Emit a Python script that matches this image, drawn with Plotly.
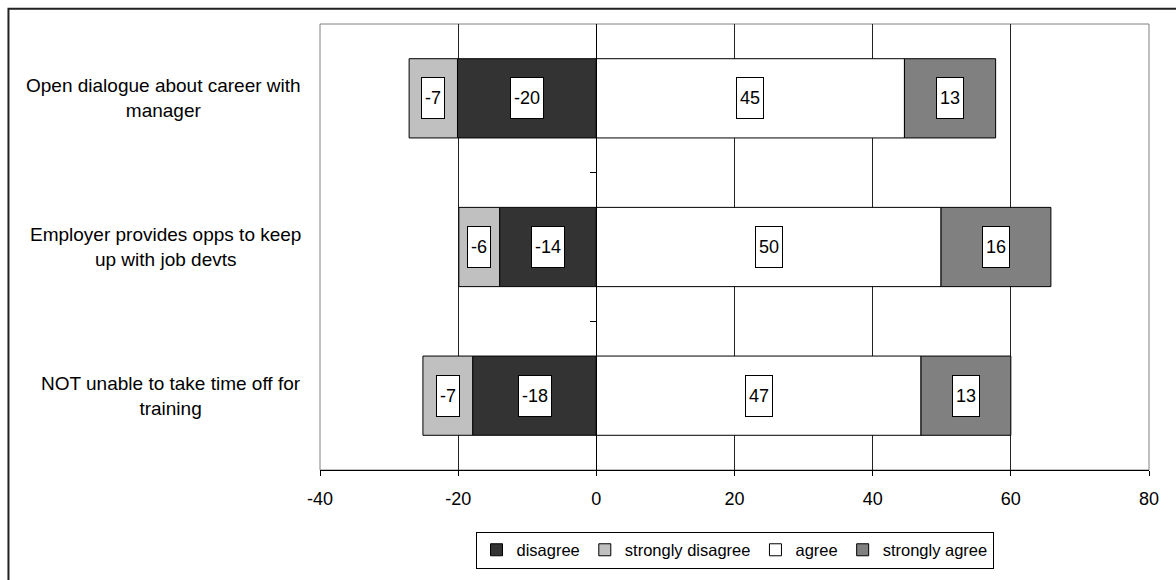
import plotly.graph_objects as go

categories = ["Open dialogue about career with<br>manager",
              "Employer provides opps to keep<br>up with job devts",
              "NOT unable to take time off for<br>training"]
disagree = [-20.1, -14.0, -17.9]
strongly_disagree = [-7.0, -5.9, -7.2]
agree = [44.6, 49.9, 47.0]
strongly_agree = [13.2, 15.9, 13.0]
x_ticks = [-40, -20, 0, 20, 40, 60, 80]

FONT = "Liberation Sans, Arial, sans-serif"
FS = 18

series = [
    ("disagree", disagree, "#333333"),
    ("strongly disagree", strongly_disagree, "#C0C0C0"),
    ("agree", agree, "#FFFFFF"),
    ("strongly agree", strongly_agree, "#808080"),
]

fig = go.Figure()
for name, vals, col in series:
    fig.add_trace(go.Bar(
        y=categories, x=vals, name=name, orientation="h",
        marker=dict(color=col, line=dict(color="#000000", width=1)),
        hoverinfo="x+name",
    ))

annotations = []
# data labels in white boxes at the middle of each segment
neg_base = [0.0] * len(categories)
pos_base = [0.0] * len(categories)
for name, vals, col in series:
    for i, v in enumerate(vals):
        if v < 0:
            start = neg_base[i]
            neg_base[i] += v
        else:
            start = pos_base[i]
            pos_base[i] += v
        mid = start + v / 2
        annotations.append(dict(
            x=mid, y=categories[i], xref="x", yref="y",
            text=str(int(round(v))), showarrow=False,
            font=dict(family=FONT, size=FS, color="#000"),
            bgcolor="#FFFFFF", bordercolor="#000000", borderwidth=1,
            borderpad=3, height=34,
        ))

# category labels (center-aligned blocks, right-anchored)
for c in categories:
    annotations.append(dict(
        x=-0.02, y=c, xref="paper", yref="y", text=c, showarrow=False,
        xanchor="right", yanchor="middle", align="center",
        font=dict(family=FONT, size=19, color="#000"),
    ))

shapes = [
    # plot-area border (gray)
    dict(type="rect", xref="paper", yref="paper", x0=0, y0=0, x1=1, y1=1,
         line=dict(color="#808080", width=1), layer="below"),
    # outer chart frame
    dict(type="path", xref="paper", yref="paper",
         path="M -0.3758 -0.25 L -0.3758 1.034 L 1.05 1.034",
         line=dict(color="#222222", width=2)),
]

fig.update_layout(
    width=1176, height=580,
    margin=dict(l=320, r=27, t=24, b=100),
    paper_bgcolor="#FFFFFF", plot_bgcolor="#FFFFFF",
    barmode="relative", bargap=0.467,
    font=dict(family=FONT, size=FS, color="#000"),
    showlegend=True,
    legend=dict(orientation="h", x=0.5, xanchor="center", y=-0.138, yanchor="top",
                bordercolor="#000000", borderwidth=1, bgcolor="#FFFFFF",
                font=dict(family=FONT, size=16.5), itemwidth=30,
                traceorder="normal"),
    xaxis=dict(range=[-40, 80], tickvals=x_ticks, ticktext=[str(t) for t in x_ticks],
               showgrid=True, gridcolor="#222222", gridwidth=1,
               zeroline=True, zerolinecolor="#000000", zerolinewidth=1,
               showline=True, linecolor="#000000", linewidth=1,
               ticks="outside", ticklen=5, tickcolor="#000000",
               ticklabelstandoff=7,
               tickfont=dict(family=FONT, size=FS), fixedrange=True),
    yaxis=dict(categoryorder="array", categoryarray=categories,
               autorange="reversed", showticklabels=False, ticks="",
               showgrid=False, zeroline=False, showline=False, fixedrange=True),
    yaxis2=dict(overlaying="y", anchor="free", position=1/3, side="left",
                range=[-0.5, 2.5], tickvals=[0.5, 1.5], showticklabels=False,
                ticks="outside", ticklen=6, tickcolor="#000000",
                showline=True, linecolor="#000000", linewidth=1,
                showgrid=False, zeroline=False, fixedrange=True),
    annotations=annotations,
    shapes=shapes,
)

# invisible trace to activate yaxis2
fig.add_trace(go.Scatter(x=[0], y=[1], yaxis="y2", mode="markers",
                         marker=dict(opacity=0), showlegend=False, hoverinfo="skip"))

fig.write_html("out.html")
